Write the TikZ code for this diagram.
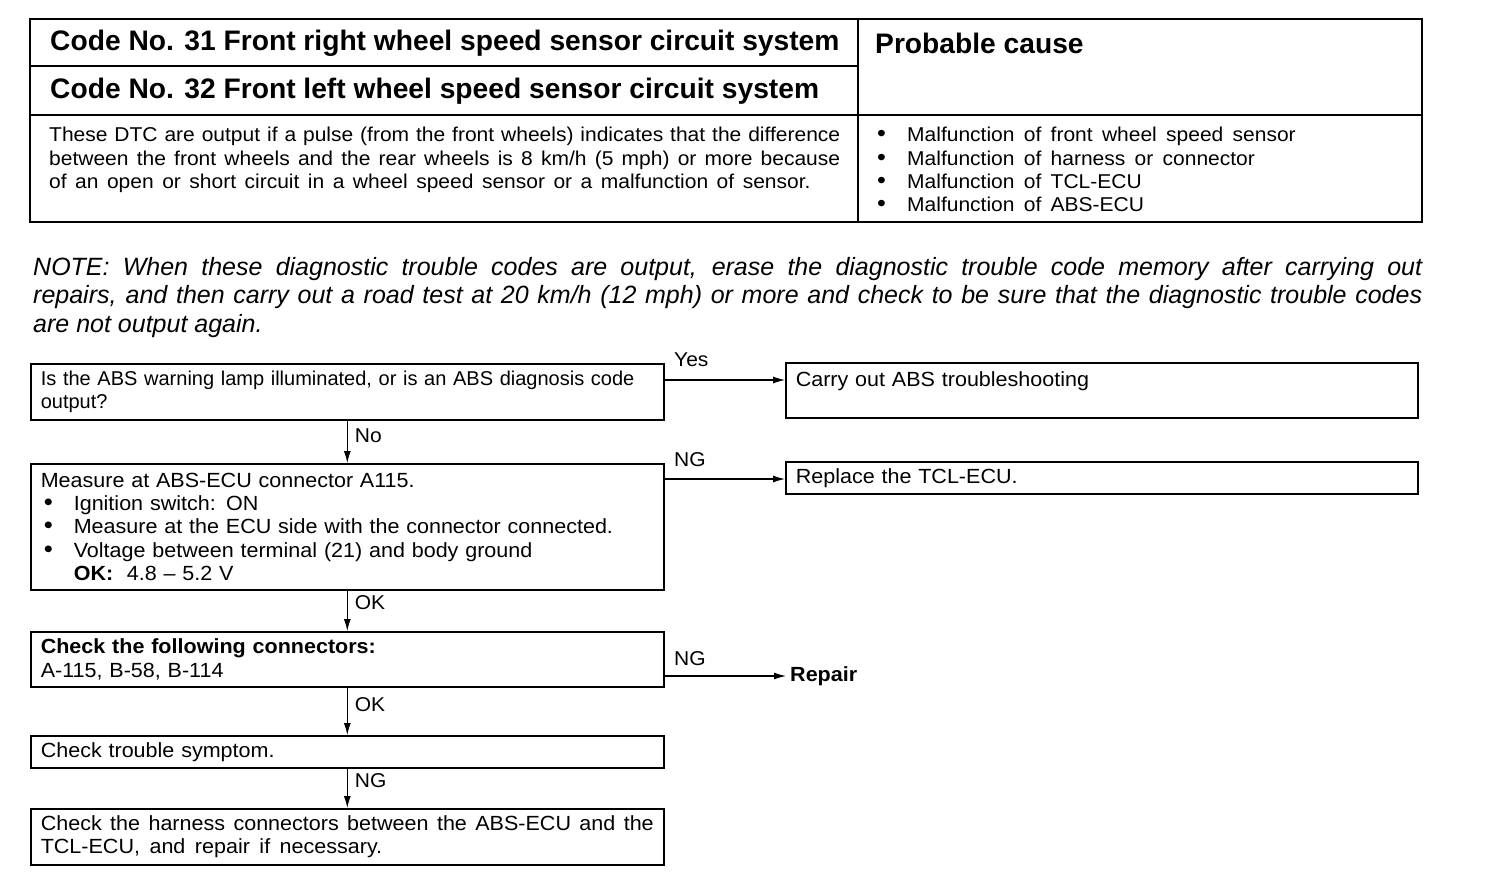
\documentclass[tikz,border=0pt]{standalone}
\usepackage{fontspec}
\setmainfont{Liberation Sans}[FakeStretch=1.05]
\newfontfamily\plainfam{Liberation Sans}
\usetikzlibrary{positioning,arrows.meta,calc}
\newcommand{\hdfont}{\plainfam\fontsize{28.2}{30}\selectfont\bfseries}
\newcommand{\txfont}{\fontsize{20}{23.4}\selectfont\spaceskip=9.3pt plus 4pt minus 2pt\relax}
\newcommand{\dtcfont}{\fontsize{20}{23.4}\selectfont\spaceskip=8.5pt plus 5pt minus 3pt\hyphenpenalty=10000\relax}
\newcommand{\boxfont}{\fontsize{20.5}{23.4}\selectfont\spaceskip=9.5pt plus 4pt minus 2pt\relax}
\newcommand{\tightfont}{\plainfam\fontsize{20}{23.4}\selectfont\spaceskip=9.3pt plus 3pt minus 2pt\relax}
\newcommand{\notefont}{\plainfam\fontsize{25}{28.6}\selectfont\itshape}
\newcommand{\bul}{\makebox[33pt][l]{\hspace{3pt}\scalebox{1.2}{\textbullet}}}
\tikzset{
    frame/.style={line width=1.8pt},
    stepbox/.style={draw, line width=1.6pt, anchor=north west, text width=613pt,
        inner xsep=10pt, inner ysep=0pt, align=left, font=\boxfont},
    flow/.style={-{Latex[length=12pt,width=7pt]}, line width=1.1pt},
    tag/.style={font=\txfont, inner sep=1pt}
}

\begin{document}
\begin{tikzpicture}[x=1pt, y=-1pt]
    \useasboundingbox (0,0) rectangle (1504,884);

    % table
    \draw[frame] (30,19) rectangle (1422,222);
    \draw[frame] (858,19) -- (858,222);
    \draw[frame] (30,66) -- (858,66);
    \draw[frame] (30,115) -- (1422,115);
    \node[font=\hdfont, anchor=west, inner sep=0pt] (code31) at (50,43) {Code No. 31 Front right wheel speed sensor circuit system};
    \node[font=\hdfont, anchor=west, inner sep=0pt] (code32) at (50,91) {Code No. 32 Front left wheel speed sensor circuit system};
    \node[font=\hdfont, anchor=west, inner sep=0pt] (cause) at (875,43) {Probable cause};
    \node[font=\dtcfont, anchor=north west, inner sep=0pt, text width=791pt, align=justify] (dtc) at (49,127)
        {These DTC are output if a pulse (from the front wheels) indicates that the difference\linebreak
         between the front wheels and the rear wheels is 8 km/h (5 mph) or more because\linebreak
         of an open or short circuit in a wheel speed sensor or a malfunction of sensor.};
    \node[font=\txfont, anchor=north west, inner sep=0pt, align=left] (causes) at (874,127)
        {\bul Malfunction of front wheel speed sensor\\
         \bul Malfunction of harness or connector\\
         \bul Malfunction of TCL-ECU\\
         \bul Malfunction of ABS-ECU};

    % note
    \node[font=\notefont, anchor=north west, inner sep=0pt, text width=1389pt, align=justify] (note) at (33,257)
        {NOTE: When these diagnostic trouble codes are output, erase the diagnostic trouble code memory after carrying out\linebreak
         repairs, and then carry out a road test at 20 km/h (12 mph) or more and check to be sure that the diagnostic trouble codes\linebreak
         are not output again.};

    % flow chart
    \node[stepbox, minimum height=56pt, font=\tightfont] (q1) at (30,363)
        {Is the ABS warning lamp illuminated, or is an ABS diagnosis code\\output?};
    \node[stepbox, minimum height=126pt] (q2) at (30,463)
        {Measure at ABS-ECU connector A115.\\
         \bul Ignition switch: ON\\
         \bul Measure at the ECU side with the connector connected.\\
         \bul Voltage between terminal (21) and body ground\\
         \hspace*{33pt}\textbf{OK:}\ \ 4.8 -- 5.2 V};
    \node[stepbox, minimum height=55pt] (q3) at (30,631)
        {\textbf{Check the following connectors:}\\A-115, B-58, B-114};
    \node[stepbox, minimum height=32pt] (q4) at (30,735) {Check trouble symptom.};
    \node[stepbox, minimum height=56pt, align=justify] (q5) at (30,808)
        {Check the harness connectors between the ABS-ECU and the\linebreak TCL-ECU, and repair if necessary.};

    \node[stepbox, text width=612pt, minimum height=55pt] (r1) at (785,362)
        {Carry out ABS troubleshooting\\\mbox{}};
    \node[stepbox, text width=612pt, minimum height=32pt] (r2) at (785,461) {Replace the TCL-ECU.};
    \node[font=\boxfont\bfseries, anchor=west, inner xsep=4pt] (fix) at (786,676) {Repair};

    \coordinate (y1) at (0,380);
    \coordinate (y2) at (0,479);

    \draw[flow] (q1.east |- y1) -- (r1.west |- y1)
        node[tag, pos=0, anchor=south west, xshift=8pt, yshift=12pt] {Yes};
    \draw[flow] (q2.east |- y2) -- (r2.west |- y2)
        node[tag, pos=0, anchor=south west, xshift=8pt, yshift=11pt] {NG};
    \draw[flow] (q3.east |- fix) -- (fix.west)
        node[tag, pos=0, anchor=south west, xshift=8pt, yshift=9pt] {NG};

    \draw[flow] (q1) -- (q2) node[tag, right, pos=0.35, xshift=6pt] {No};
    \draw[flow] (q2) -- (q3) node[tag, right, pos=0.3, xshift=6pt] {OK};
    \draw[flow] (q3) -- (q4) node[tag, right, pos=0.35, xshift=6pt] {OK};
    \draw[flow] (q4) -- (q5) node[tag, right, pos=0.3, xshift=6pt] {NG};
\end{tikzpicture}
\end{document}
